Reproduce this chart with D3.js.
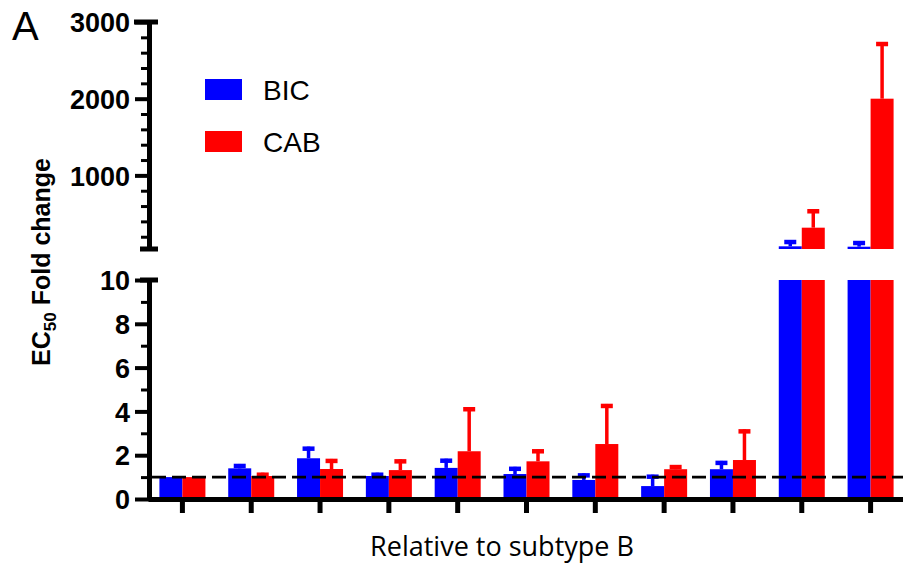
<!DOCTYPE html>
<html>
<head>
<meta charset="utf-8">
<script src="https://cdn.jsdelivr.net/npm/d3@7"></script>
<style>
  html, body { margin: 0; padding: 0; background: #fff; }
  svg { display: block; }
</style>
</head>
<body>
<svg id="chart" width="903" height="569"></svg>
<script>
// ---------------- data ----------------
const categories = ["1","2","3","4","5","6","7","8","9","10","11"];
const seriesNames = ["BIC","CAB"];
const bicValues = [1.0, 1.40, 1.86, 1.05, 1.42, 1.14, 0.87, 0.59, 1.36, 75, 70];
const bicErrors = [0.0, 0.20, 0.53, 0.15, 0.42, 0.33, 0.30, 0.52, 0.38, 82, 74];
const cabValues = [1.0, 1.05, 1.37, 1.32, 2.18, 1.72, 2.51, 1.36, 1.78, 318, 2000];
const cabErrors = [0.0, 0.15, 0.46, 0.49, 2.01, 0.55, 1.83, 0.19, 1.40, 240, 739];
const bottomTicks = [0, 2, 4, 6, 8, 10];
const bottomMinorTicks = [1, 3, 5, 7, 9];
const topTicks = [1000, 2000, 3000];
const topMinorTicks = [200, 400, 600, 800, 1200, 1400, 1600, 1800, 2200, 2400, 2600, 2800];
const referenceLine = 1;
const colors = {BIC: "#0000ff", CAB: "#ff0000"};

// ---------------- layout ----------------
const svg = d3.select("#chart");
const axisX = 149;
const bottomDomain = [0, 10];
const topDomain = [40, 3000];

const x0 = d3.scaleBand().domain(categories).range([148, 905]).padding(0);
const groupW = 46;
const x1 = d3.scaleBand().domain(seriesNames)
  .range([x0.bandwidth() / 2 - groupW / 2, x0.bandwidth() / 2 + groupW / 2]).padding(0);

const yBot = d3.scaleLinear().domain(bottomDomain).range([499, 280]);
const yTop = d3.scaleLinear().domain(topDomain).range([249, 22]);

const rows = categories.map((c, i) => ({
  cat: c,
  vals: [
    {s: "BIC", v: bicValues[i], e: bicErrors[i]},
    {s: "CAB", v: cabValues[i], e: cabErrors[i]}
  ]
}));

const bars = svg.append("g");
rows.forEach(r => {
  r.vals.forEach(d => {
    const xl = x0(r.cat) + x1(d.s);
    const w = x1.bandwidth();
    const cx = xl + w / 2;
    const col = colors[d.s];
    let scale, base;
    if (d.v <= bottomDomain[1]) {
      scale = yBot; base = yBot(0);
    } else {
      bars.append("rect").attr("x", xl).attr("width", w)
        .attr("y", yBot(bottomDomain[1])).attr("height", yBot(0) - yBot(bottomDomain[1]))
        .attr("fill", col);
      scale = yTop; base = yTop(topDomain[0]);
    }
    const yv = scale(d.v);
    bars.append("rect").attr("x", xl).attr("width", w)
      .attr("y", yv).attr("height", Math.max(0, base - yv)).attr("fill", col);
    if (d.e > 0) {
      const ye = scale(d.v + d.e);
      bars.append("line").attr("x1", cx).attr("x2", cx)
        .attr("y1", yv).attr("y2", ye)
        .attr("stroke", col).attr("stroke-width", 3.5);
      bars.append("line").attr("x1", cx - 6).attr("x2", cx + 6)
        .attr("y1", ye + 2).attr("y2", ye + 2)
        .attr("stroke", col).attr("stroke-width", 4.5);
    }
  });
});

// reference dashed line
svg.append("line")
  .attr("x1", 152).attr("x2", 905)
  .attr("y1", yBot(referenceLine)).attr("y2", yBot(referenceLine))
  .attr("stroke", "#000").attr("stroke-width", 2.8)
  .attr("stroke-dasharray", "14,6");

// ---------------- axes ----------------
function styleAxis(g) {
  g.select(".domain").attr("stroke", "#000").attr("stroke-width", 5);
  g.selectAll(".tick line").attr("stroke", "#000").attr("stroke-width", 4);
  g.selectAll(".tick text")
    .attr("fill", "#000")
    .style("font-family", "'Liberation Sans', Arial, sans-serif")
    .style("font-weight", "bold")
    .style("font-size", "27px");
}

const gBot = svg.append("g").attr("transform", `translate(${axisX},0)`)
  .call(d3.axisLeft(yBot).tickValues(bottomTicks).tickSize(14).tickSizeOuter(0).tickPadding(5)
    .tickFormat(d3.format("d")));
styleAxis(gBot);
gBot.selectAll(".tick text").attr("dy", "0.36em");
svg.append("g").attr("transform", `translate(${axisX},0)`)
  .call(d3.axisLeft(yBot).tickValues(bottomMinorTicks).tickSize(8).tickFormat(""))
  .call(g => { g.select(".domain").remove(); g.selectAll(".tick line").attr("stroke", "#000").attr("stroke-width", 3); });
svg.append("line").attr("x1", axisX - 9).attr("x2", axisX + 9)
  .attr("y1", yBot(bottomDomain[1])).attr("y2", yBot(bottomDomain[1]))
  .attr("stroke", "#000").attr("stroke-width", 5);

const gTop = svg.append("g").attr("transform", `translate(${axisX},0)`)
  .call(d3.axisLeft(yTop).tickValues(topTicks).tickSize(14).tickSizeOuter(0).tickPadding(5)
    .tickFormat(d3.format("d")));
styleAxis(gTop);
gTop.selectAll(".tick text").attr("dy", "0.36em");
svg.append("g").attr("transform", `translate(${axisX},0)`)
  .call(d3.axisLeft(yTop).tickValues(topMinorTicks).tickSize(8).tickFormat(""))
  .call(g => { g.select(".domain").remove(); g.selectAll(".tick line").attr("stroke", "#000").attr("stroke-width", 3); });
svg.append("line").attr("x1", axisX - 15).attr("x2", axisX + 9)
  .attr("y1", yTop(topDomain[1])).attr("y2", yTop(topDomain[1]))
  .attr("stroke", "#000").attr("stroke-width", 5);
svg.append("line").attr("x1", axisX - 9).attr("x2", axisX + 9)
  .attr("y1", yTop(topDomain[0])).attr("y2", yTop(topDomain[0]))
  .attr("stroke", "#000").attr("stroke-width", 5);

const gx = svg.append("g").attr("transform", `translate(0,${yBot(0)})`)
  .call(d3.axisBottom(x0).tickSize(14).tickSizeOuter(0).tickFormat(""));
gx.select(".domain").attr("stroke", "#000").attr("stroke-width", 5);
gx.selectAll(".tick line").attr("stroke", "#000").attr("stroke-width", 5);

// ---------------- texts ----------------
svg.append("text").attr("x", 12).attr("y", 40)
  .style("font-family", "'Liberation Sans', Arial, sans-serif")
  .style("font-size", "40px").text("A");

const yLab = svg.append("text")
  .attr("transform", "translate(50,262) rotate(-90)")
  .attr("text-anchor", "middle")
  .style("font-family", "'Liberation Sans', Arial, sans-serif")
  .style("font-weight", "bold").style("font-size", "25px");
yLab.append("tspan").text("EC");
yLab.append("tspan").attr("dy", 6).style("font-size", "17px").text("50");
yLab.append("tspan").attr("dy", -6).text(" Fold change");

svg.append("text").attr("x", 502).attr("y", 556)
  .attr("text-anchor", "middle")
  .style("font-family", "'Open Sans', sans-serif")
  .style("font-size", "27px").text("Relative to subtype B");

const legend = svg.append("g");
seriesNames.forEach((s, i) => {
  legend.append("rect").attr("x", 205).attr("y", 79 + i * 52)
    .attr("width", 37).attr("height", 21).attr("fill", colors[s]);
  legend.append("text").attr("x", 263).attr("y", 100 + i * 52)
    .style("font-family", "'Liberation Sans', Arial, sans-serif")
    .style("font-size", "28px").text(s);
});
</script>
</body>
</html>
